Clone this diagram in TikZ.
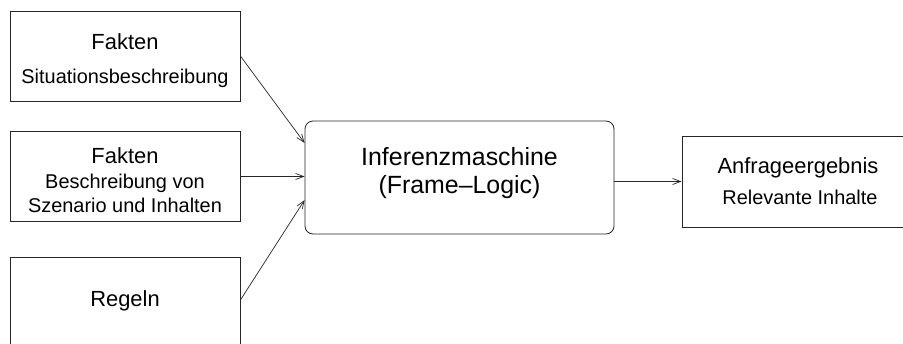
\documentclass[tikz,border=0pt]{standalone}
\usepackage{fontspec}
\setmainfont{Liberation Sans}
\usetikzlibrary{arrows.meta,calc}
\tikzset{
  box/.style={draw=black!85, line width=0.8bp, inner sep=0pt, minimum width=230bp, minimum height=90bp},
  enginebox/.style={draw=black!85, line width=0.8bp, inner sep=0pt, rounded corners=8bp, minimum width=309bp, minimum height=113bp},
  head/.style={anchor=base, inner sep=0pt, font=\fontsize{22}{26}\selectfont},
  sub/.style={anchor=base, inner sep=0pt, font=\fontsize{20}{24}\selectfont},
  big/.style={anchor=base, inner sep=0pt, font=\fontsize{25}{30}\selectfont},
  conn/.style={draw=black!85, line width=0.7bp, -{Straight Barb[length=8bp,width=6bp]}}
}
\begin{document}
\begin{tikzpicture}[x=1bp,y=-1bp]
\useasboundingbox (0,0) rectangle (903,343);
\clip (0,0) rectangle (903,343);
% boxes
\node[box] (b1) at (125,56) {};
\node[box] (b2) at (125,176.5) {};
\node[box] (b3) at (125,302) {};
\node[enginebox] (c) at (459.5,177.5) {};
\node[box, minimum height=91bp, minimum width=232bp] (r) at (798,181.5) {};
% texts
\node[head] (t1a) at (125,49) {Fakten};
\node[sub] (t1b) at (125,83) {Situationsbeschreibung};
\node[head] (t2a) at (125,163) {Fakten};
\node[sub] (t2b) at (125,188) {Beschreibung von};
\node[sub] (t2c) at (125,212) {Szenario und Inhalten};
\node[head] (t3a) at (125,306) {Regeln};
\node[big] (tc1) at (459.5,165) {Inferenzmaschine};
\node[big] (tc2) at (459.5,193) {(Frame{\textendash}Logic)};
\node[head] (tr1) at (798,173) {Anfrageergebnis};
\node[sub] (tr2) at (800,204) {Relevante Inhalte};
% connectors
\coordinate (c1) at ($(c.west)+(0,-34.5)$);
\coordinate (c3) at ($(c.west)+(0,22.5)$);
\draw[conn] (b1.east) -- (c1);
\draw[conn] (b2.east) -- (b2.east -| c.west);
\draw[conn] ($(b3.east)+(0,-2)$) -- (c3);
\draw[conn] (c.east |- r.west) -- (r.west);
\end{tikzpicture}
\end{document}
